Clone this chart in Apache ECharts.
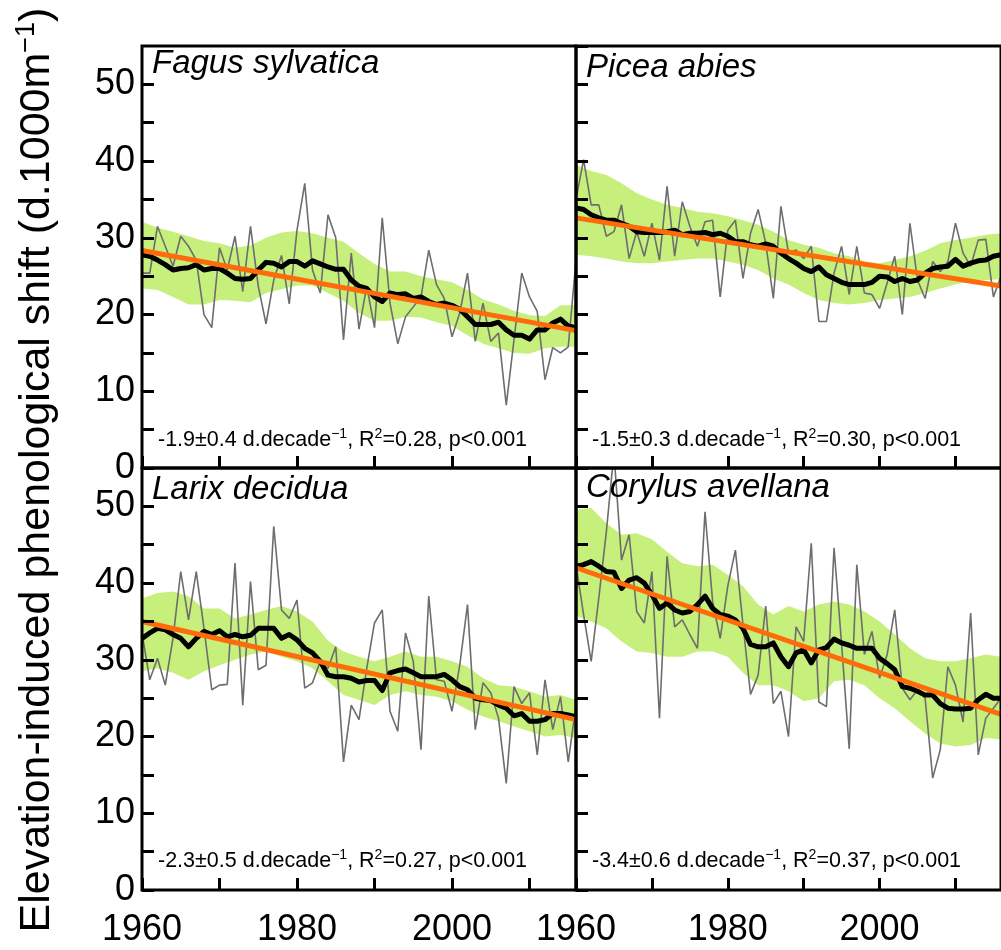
<!DOCTYPE html>
<html>
<head>
<meta charset="utf-8">
<script src="https://cdn.jsdelivr.net/npm/echarts/dist/echarts.min.js"></script>
<style>
  html, body { margin: 0; padding: 0; background: #fff; }
  #chart { width: 1001px; height: 950px; }
</style>
</head>
<body>
<div id="chart"></div>
<script>
var years = [1960,1961,1962,1963,1964,1965,1966,1967,1968,1969,
             1970,1971,1972,1973,1974,1975,1976,1977,1978,1979,
             1980,1981,1982,1983,1984,1985,1986,1987,1988,1989,
             1990,1991,1992,1993,1994,1995,1996,1997,1998,1999,
             2000,2001,2002,2003,2004,2005,2006,2007,2008,2009,
             2010,2011,2012,2013,2014,2015,2016];
var bandYears = [1960,1962,1964,1966,1968,1970,1972,1974,1976,1978,
                 1980,1982,1984,1986,1988,1990,1992,1994,1996,1998,
                 2000,2002,2004,2006,2008,2010,2012,2014,2016];
var trendYears = [1960, 2016];

// Fagus sylvatica
var fagusRaw = [25.4,25.4,31.5,28.9,26.3,30.2,28.9,27.1,20.0,18.3,
                28.7,25.8,30.2,23.0,31.5,23.7,18.8,24.5,27.7,21.4,
                31.0,37.1,25.8,22.8,33.0,30.0,16.7,28.0,18.1,23.7,
                18.3,32.6,21.5,16.2,19.7,21.0,22.3,28.4,23.9,22.1,
                17.1,20.2,25.4,16.5,21.5,16.5,17.6,8.2,16.7,25.4,
                22.3,20.4,11.5,15.7,15.0,15.8,27.1];
var fagusMean = [27.8,27.6,27.1,26.5,25.8,26.0,26.1,26.5,25.8,26.0,
                 26.0,25.4,24.7,24.6,24.7,25.8,26.8,26.7,26.2,26.9,
                 26.9,26.3,27.0,26.6,26.2,25.9,25.9,24.5,23.7,23.4,
                 22.3,21.7,22.8,22.6,22.7,22.1,22.3,21.7,21.3,21.5,
                 21.2,20.7,19.7,18.7,18.7,18.7,19.0,18.0,17.3,17.3,
                 16.8,18.0,18.0,18.9,19.4,18.5,18.3];
var fagusHigh = [32.1,31.3,30.8,30.2,29.6,29.3,28.7,29.0,30.0,30.7,
                 30.9,30.6,30.0,29.5,28.0,26.6,25.6,25.6,25.0,24.6,
                 24.2,23.2,22.0,21.3,20.5,19.9,19.8,21.2,21.2];
var fagusLow = [23.4,23.2,22.3,21.3,21.3,21.9,21.8,21.6,22.8,23.3,
                23.8,23.8,22.8,21.8,20.2,19.2,19.2,19.7,19.6,19.0,
                18.5,17.3,16.2,15.6,15.0,14.9,15.6,15.8,15.8];
var fagusTrend = [28.35, 17.9];

// Picea abies
var piceaRaw = [35.0,40.2,34.3,34.3,30.2,30.8,34.3,27.3,30.8,27.6,
                31.9,27.1,36.7,27.6,34.7,31.5,28.9,32.1,32.3,22.3,
                31.0,32.3,24.7,30.6,33.7,29.3,22.1,34.1,28.0,28.4,
                27.3,28.9,19.1,19.1,25.4,28.9,22.6,28.9,22.8,22.6,
                20.8,24.1,27.6,20.0,31.9,24.5,22.1,26.9,25.6,26.9,
                31.9,28.0,26.3,29.7,29.8,22.3,25.0];
var piceaMean = [33.9,33.7,33.0,32.6,32.3,32.3,31.9,31.5,30.8,30.7,
                 30.7,30.7,30.8,31.0,30.4,30.6,30.6,30.7,30.4,30.6,
                 30.2,29.5,29.5,29.1,28.9,29.2,28.9,28.0,27.3,26.7,
                 26.0,25.6,26.2,25.2,24.7,24.2,23.9,23.9,23.9,24.2,
                 25.0,24.9,24.3,24.7,24.3,24.5,25.4,26.0,26.2,26.3,
                 27.2,26.3,26.7,27.0,27.1,27.6,27.8];
var piceaHigh = [39.5,38.7,38.2,37.1,35.8,35.0,34.3,33.9,33.4,33.2,
                 32.8,32.3,31.7,30.8,29.7,29.1,28.7,28.0,27.6,26.9,
                 26.7,27.1,27.6,28.3,29.3,29.7,30.0,30.4,30.6];
var piceaLow = [27.8,27.6,27.3,26.9,26.7,26.7,26.9,27.1,27.3,27.3,
                26.9,26.5,25.8,24.7,23.9,22.8,21.9,21.5,21.3,21.5,
                21.9,22.1,22.3,22.8,23.4,23.9,24.3,24.5,24.6];
var piceaTrend = [32.6, 23.7];

// Larix decidua
var larixRaw = [33.5,27.4,30.2,26.7,32.8,41.5,35.2,41.5,34.1,26.1,
                26.7,26.8,42.6,24.1,40.2,28.7,29.3,47.4,36.5,35.4,
                37.8,26.3,27.0,29.8,28.9,31.7,16.7,24.1,22.2,28.9,
                34.8,36.5,23.3,20.7,33.5,29.8,18.3,38.3,27.4,27.2,
                23.3,29.3,37.2,20.9,27.0,25.7,22.4,13.9,26.5,24.3,
                25.7,17.6,27.4,20.9,25.2,16.7,24.1];
var larixMean = [32.8,33.5,34.1,33.9,33.3,32.8,31.7,32.8,33.7,33.3,
                 33.8,33.0,33.3,33.0,33.2,34.1,34.1,34.1,32.8,33.3,
                 32.6,31.5,30.9,29.8,28.0,27.8,27.8,27.6,27.1,27.3,
                 27.3,26.0,28.3,28.6,28.8,28.3,27.8,27.8,27.8,28.1,
                 27.4,26.5,26.1,25.0,24.8,24.7,24.1,23.7,22.7,23.0,
                 22.0,22.0,22.2,23.0,23.0,22.8,22.6];
var larixHigh = [38.0,38.7,38.9,38.3,36.7,36.7,35.4,35.9,36.5,37.0,
                 36.3,35.0,32.5,31.1,30.4,29.8,30.4,31.1,30.4,30.4,
                 29.8,29.1,27.6,26.7,26.5,25.9,25.2,25.4,24.8];
var larixLow = [28.5,28.9,28.3,27.4,28.5,29.3,30.0,30.7,31.1,30.4,
                29.8,28.9,27.2,25.4,24.8,24.1,25.4,25.9,25.4,25.2,
                24.6,23.5,22.6,22.0,21.3,20.7,20.0,20.2,19.8];
var larixTrend = [35.0, 22.2];

// Corylus avellana
var corylusRaw = [42.4,35.9,29.8,38.0,46.7,57.0,43.0,46.3,36.3,34.8,
                  41.5,22.4,43.5,34.3,35.2,33.3,31.5,49.3,37.6,32.8,
                  39.6,44.3,34.6,25.5,28.0,37.0,24.3,25.9,20.0,34.3,
                  32.4,45.2,24.5,23.9,44.6,32.0,18.4,42.4,30.7,33.7,
                  27.6,30.7,36.5,26.3,24.8,26.1,25.0,14.6,18.3,29.1,
                  26.7,21.9,36.1,17.6,22.4,23.7,25.0];
var corylusMean = [42.2,42.4,42.8,42.2,41.5,41.4,39.3,40.4,40.7,40.0,
                   38.5,36.7,37.4,36.5,36.1,36.3,37.2,38.3,36.7,35.9,
                   35.7,35.2,34.1,32.0,31.7,31.7,32.2,30.4,29.1,30.9,
                   31.3,29.6,31.3,31.6,32.7,32.2,31.9,31.5,31.5,31.5,
                   30.2,29.5,28.7,26.5,26.3,25.9,25.4,25.4,24.3,23.7,
                   23.6,23.6,23.7,24.8,25.5,25.0,25.0];
var corylusHigh = [49.6,49.8,47.8,46.3,46.5,45.7,44.1,42.6,42.2,42.4,
                   41.1,39.6,37.2,35.9,37.0,36.3,37.2,37.6,37.2,36.3,
                   35.0,33.3,31.5,30.2,29.8,29.8,30.2,30.7,30.4];
var corylusLow = [35.7,35.0,34.1,32.4,31.1,30.9,30.4,30.4,31.1,31.1,
                  30.4,28.3,26.7,26.7,25.9,24.6,25.0,27.2,27.4,26.7,
                  25.0,23.7,22.0,20.4,19.1,18.7,18.9,19.8,19.6];
var corylusTrend = [42.0, 22.9];

var panelNames = ['Fagus sylvatica', 'Picea abies', 'Larix decidua', 'Corylus avellana'];
var slopes = ['-1.9±0.4', '-1.5±0.3', '-2.3±0.5', '-3.4±0.6'];
var rSquared = ['0.28', '0.30', '0.27', '0.37'];

var panels = [
  { raw: fagusRaw, mean: fagusMean, lo: fagusLow, hi: fagusHigh, trend: fagusTrend },
  { raw: piceaRaw, mean: piceaMean, lo: piceaLow, hi: piceaHigh, trend: piceaTrend },
  { raw: larixRaw, mean: larixMean, lo: larixLow, hi: larixHigh, trend: larixTrend },
  { raw: corylusRaw, mean: corylusMean, lo: corylusLow, hi: corylusHigh, trend: corylusTrend }
];

var GREEN = '#c6ef7c';
var ORANGE = '#ff6a0a';
var FONT = 'Liberation Sans, Arial, sans-serif';

var gridPos = [[142, 46], [576, 46], [142, 468], [576, 468]];
var titleY = [67, 71, 493, 491];
var statY = [441, 441, 862, 862];
var PW = 434, PH = 422;

function pairs(xs, ys) {
  return xs.map(function (x, k) { return [x, ys[k]]; });
}

var chart = echarts.init(document.getElementById('chart'));

var grids = [], xAxes = [], yAxes = [], series = [], graphics = [];

panels.forEach(function (p, i) {
  var bottom = i >= 2;
  var left = i % 2 === 0;
  grids.push({
    left: gridPos[i][0], top: gridPos[i][1], width: PW, height: PH,
    show: true, borderColor: '#000', borderWidth: 3, backgroundColor: 'transparent', z: 10
  });
  xAxes.push({
    type: 'value', gridIndex: i, min: 1960, max: 2016, interval: 10, z: 11,
    axisLine: { show: false },
    splitLine: { show: false },
    axisTick: { show: true, inside: true, length: 12, lineStyle: { color: '#000', width: 3 } },
    axisLabel: {
      show: bottom, margin: 22, color: '#000', fontSize: 36, fontFamily: FONT,
      showMaxLabel: false,
      formatter: function (v) { return ((v - 1960) % 20 === 0 && v < 2016) ? String(v) : ''; }
    }
  });
  yAxes.push({
    type: 'value', gridIndex: i, min: 0, max: 55, interval: 5, z: 11,
    axisLine: { show: false },
    splitLine: { show: false },
    axisTick: { show: true, inside: true, length: 12, lineStyle: { color: '#000', width: 3 } },
    axisLabel: {
      show: left, margin: 7, color: '#000', fontSize: 36, fontFamily: FONT,
      showMaxLabel: false,
      formatter: function (v) { return (v % 10 === 0 && v <= 50) ? String(v) : ''; }
    }
  });

  series.push({
    type: 'custom', xAxisIndex: i, yAxisIndex: i, silent: true, z: 1,
    data: [[1960, 0]],
    renderItem: function (params, api) {
      var pts = [];
      for (var a = 0; a < bandYears.length; a++) pts.push(api.coord([bandYears[a], p.hi[a]]));
      for (var b = bandYears.length - 1; b >= 0; b--) pts.push(api.coord([bandYears[b], p.lo[b]]));
      return { type: 'polygon', shape: { points: pts }, style: { fill: GREEN, stroke: null } };
    }
  });
  series.push({
    type: 'line', xAxisIndex: i, yAxisIndex: i, symbol: 'none', silent: true, z: 2,
    data: pairs(years, p.raw),
    lineStyle: { color: '#6d6d6d', width: 1.6 }
  });
  series.push({
    type: 'line', xAxisIndex: i, yAxisIndex: i, symbol: 'none', silent: true, z: 3,
    data: pairs(years, p.mean),
    lineStyle: { color: '#000', width: 5, join: 'round' }
  });
  series.push({
    type: 'line', xAxisIndex: i, yAxisIndex: i, symbol: 'none', silent: true, z: 4,
    data: pairs(trendYears, p.trend),
    lineStyle: { color: ORANGE, width: 5 }
  });

  graphics.push({
    type: 'text', left: gridPos[i][0] + 10, top: titleY[i] - 20, z: 20,
    style: { text: panelNames[i], fontSize: 33, fontStyle: 'italic', fontFamily: FONT, fill: '#000' }
  });
  graphics.push({
    type: 'text', left: gridPos[i][0] + 16, top: statY[i] - 14, z: 20,
    style: {
      text: slopes[i] + ' d.decade{s|\u22121}, R{s|2}=' + rSquared[i] + ', p<0.001',
      fontSize: 21.5, fontFamily: FONT, fill: '#000', lineHeight: 26,
      rich: { s: { fontSize: 14, lineHeight: 14, verticalAlign: 'top', fontFamily: FONT, fill: '#000' } }
    }
  });
});

graphics.push({
  type: 'text', x: 37, y: 470, rotation: Math.PI / 2, z: 20,
  style: {
    text: 'Elevation-induced phenological shift (d.1000m{s|\u22121})',
    fontSize: 43, fontFamily: FONT, fill: '#000', lineHeight: 47,
    align: 'center', verticalAlign: 'middle',
    rich: { s: { fontSize: 27, lineHeight: 26, verticalAlign: 'top', fontFamily: FONT, fill: '#000' } }
  }
});

chart.setOption({
  animation: false,
  backgroundColor: '#fff',
  grid: grids,
  xAxis: xAxes,
  yAxis: yAxes,
  series: series,
  graphic: graphics
});
</script>
</body>
</html>
